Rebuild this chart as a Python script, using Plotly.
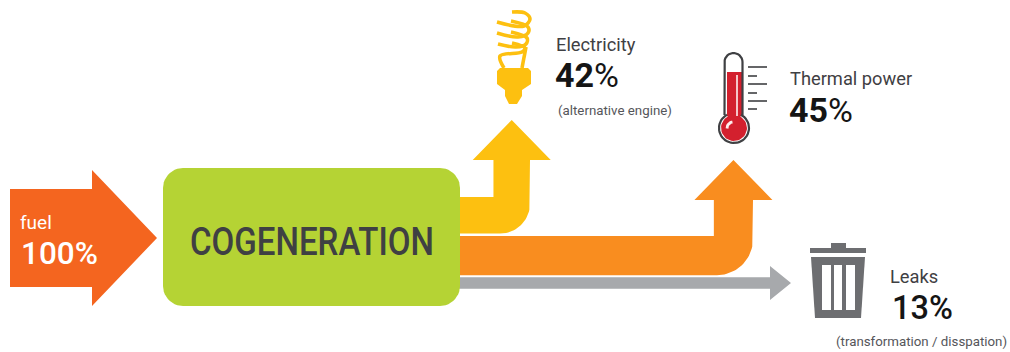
import numpy as np
import plotly.graph_objects as go

# --- data ---
source_label = "fuel"
source_value = 100
process_label = "COGENERATION"
flow_labels = ["Electricity", "Thermal power", "Leaks"]
flow_values = [42, 45, 13]
flow_notes = ["(alternative engine)", "", "(transformation / disspation)"]

# --- drawing style ---
PX_PER_PCT = 0.87
FUEL = "#f4651f"; BOX = "#b5d334"; YEL = "#fdc010"; ORG = "#f98d1f"; GRY = "#a7a9ac"
DARK = "#3f4043"; TRASH = "#6d6e71"; RED = "#d3202e"
BODY_FONT = "Roboto"

fig = go.Figure()


def arc(cx, cy, r, a0, a1, n=24):
    t = np.radians(np.linspace(a0, a1, n))
    return list(cx + r * np.cos(t)), list(cy + r * np.sin(t))


def poly(xs, ys, color):
    fig.add_trace(go.Scatter(x=list(xs) + [xs[0]], y=list(ys) + [ys[0]], mode="lines", fill="toself",
                             fillcolor=color, line=dict(color=color, width=0), hoverinfo="skip", showlegend=False))


def line(xs, ys, color, w, shape="linear"):
    fig.add_trace(go.Scatter(x=xs, y=ys, mode="lines", line=dict(color=color, width=w, shape=shape),
                             hoverinfo="skip", showlegend=False))


def elbow(value, ytop, xr, base, tip, half, r, color):
    th = value * PX_PER_PCT
    ybot, xl, xc = ytop + th, xr - th, xr - th / 2
    ax, ay = arc(xr - r, ybot - r, r, 0, 90)
    poly([450, xl, xl, xc - half, xc, xc + half, xr] + ax + [450],
         [ytop, ytop, base, base, tip, base, base] + ay + [ybot], color)


# flows
elbow(flow_values[0], 197, 530, 160, 120, 39, 30, YEL)
elbow(flow_values[1], 236, 753, 200, 160, 39, 36, ORG)
gth = flow_values[2] * PX_PER_PCT
poly([450, 770, 770, 791, 770, 770, 450],
     [283 - gth / 2, 283 - gth / 2, 266, 283, 300, 283 + gth / 2, 283 + gth / 2], GRY)

# fuel arrow
fth = source_value * 0.98
poly([10, 92, 92, 157, 92, 92, 10],
     [238 - fth / 2, 238 - fth / 2, 170, 238, 306, 238 + fth / 2, 238 + fth / 2], FUEL)

# process box
x0, x1, y0, y1, r = 163, 460, 168, 306, 20
bx, by = [], []
for cx, cy, a in [(x1 - r, y0 + r, -90), (x1 - r, y1 - r, 0), (x0 + r, y1 - r, 90), (x0 + r, y0 + r, 180)]:
    ax, ay = arc(cx, cy, r, a, a + 90, 12)
    bx += ax; by += ay
poly(bx, by, BOX)

# bulb: coil strokes, arms and screw base
coil = [
    ([512, 525, 530, 524, 497], [12, 13, 19, 26, 22]),
    ([511, 528, 528, 518, 497], [21, 27, 33, 37, 33]),
    ([511, 527, 526, 516, 498], [32, 38, 44, 47, 44]),
    ([512, 525, 522, 500, 504], [43, 48, 52, 56, 68]),
    ([526, 522], [47, 68]),
]
for cxs, cys in coil:
    line(cxs, cys, YEL, 3.6, "spline")
poly([500, 528, 531, 531, 522, 522, 517, 509, 505, 505, 497, 497],
     [68, 68, 71, 84, 90, 96, 104, 104, 96, 90, 84, 71], YEL)

# thermometer
cx, cy = 734, 128
ax, ay = arc(cx, cy, 15, -62, 242, 40)
tx, ty = arc(733.5, 62, 9, 180, 360, 16)
rx, ry = arc(cx, cy, 13, -62, 242, 40)
poly([727, 742, 742] + rx + [727], [72, 72, 116] + ry + [116], RED)
line([724.5] + tx + [742.5], [115] + ty + [115], DARK, 2.2)
line(ax, ay, DARK, 2.2)
line([737, 737], [75, 116], "#f5c6c8", 2)
hx, hy = arc(733, 128, 6, 175, 265, 10)
line(hx, hy, "#fdeeee", 2.8)
for yy, xe in zip([67, 76, 84, 93, 101, 109], [767, 757, 767, 757, 767, 757]):
    line([748, xe], [yy, yy], DARK, 1.6)

# trash can
poly([831, 846, 846, 866, 866, 810, 810, 831], [243, 243, 248, 248, 253, 253, 248, 248], TRASH)
poly([811, 865, 861, 815], [257, 257, 318, 318], TRASH)
for a, b in [(822, 831), (834, 842), (846, 855)]:
    poly([a, b, b, a], [265, 265, 310, 310], "#ffffff")


def text(x, y, s, size, color, anchor="left", weight=400):
    fig.add_annotation(x=x, y=y, text=s, showarrow=False, xanchor=anchor, yanchor="middle", xref="x", yref="y",
                       font=dict(family=BODY_FONT, size=size, color=color, weight=weight), borderpad=0, borderwidth=0)


def pct(v):
    return f"<b>{v}</b>%"


text(20, 222, source_label, 19, "#ffffff")
text(21, 253, f"{source_value}%", 31.5, "#ffffff", weight=500)
text(311.5, 242, process_label, 39, DARK, "center", 500)
text(556, 44, flow_labels[0], 18.3, DARK)
text(555, 75, pct(flow_values[0]), 34, "#151515")
text(558, 110, flow_notes[0], 13.3, "#55565a")
text(790, 78, flow_labels[1], 18.3, DARK)
text(789, 110, pct(flow_values[1]), 34, "#151515")
text(890, 276, flow_labels[2], 18.3, DARK)
text(892, 308, f"{flow_values[2]}%", 32.5, "#151515", weight=500)
text(836, 341, flow_notes[2], 13.3, "#55565a")

fig.update_layout(width=1010, height=352, margin=dict(l=0, r=0, t=0, b=0), paper_bgcolor="white",
                  plot_bgcolor="white", showlegend=False,
                  xaxis=dict(range=[0, 1010], visible=False, fixedrange=True),
                  yaxis=dict(range=[352, 0], visible=False, fixedrange=True))
fit = """
document.body.style.margin='0';document.body.style.overflow='hidden';
document.querySelectorAll('.annotation-text').forEach(function(t){
  if(t.textContent==='%s'){t.setAttribute('textLength','244');t.setAttribute('lengthAdjust','spacingAndGlyphs');}
});
""" % process_label
fig.write_html("out.html", config={"displayModeBar": False}, post_script=fit)
